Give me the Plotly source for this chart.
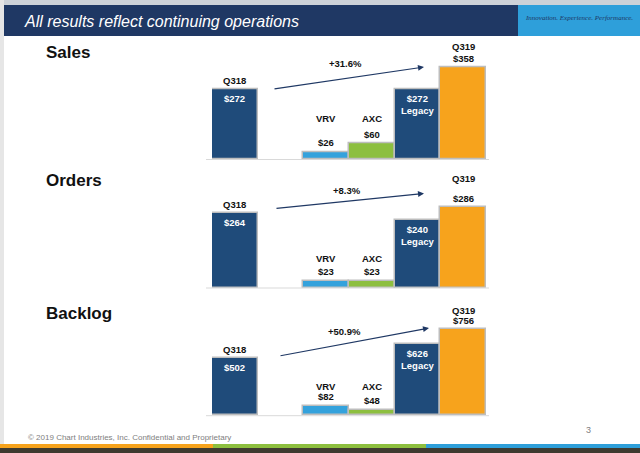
import plotly.graph_objects as go

W, H = 640, 453

# ---------------- data ----------------
categories = ["Q318", "VRV", "AXC", "Legacy", "Q319"]
slot_order = ["Q318", "gap", "VRV", "AXC", "Legacy", "Q319"]
panel_titles = ["Sales", "Orders", "Backlog"]
sales = [272, 26, 60, 272, 358]
orders = [264, 23, 23, 240, 286]
backlog = [502, 82, 48, 626, 756]
growth = ["+31.6%", "+8.3%", "+50.9%"]
header_text = "All results reflect continuing operations"
tagline = "Innovation. Experience. Performance."
footer_text = "© 2019 Chart Industries, Inc. Confidential and Proprietary"
page_no = "3"

# ---------------- style / layout ----------------
NAVY = "#1F4B7A"
HEAD_NAVY = "#1F3864"
LBLUE = "#34A2DC"
GREEN = "#8DBF3F"
ORANGE = "#F7A31C"
bar_colors = [NAVY, LBLUE, GREEN, NAVY, ORANGE]
FONT = "Liberation Sans, Arial, sans-serif"

# per panel: baseline px, px-per-unit, ymax
panels = [
    dict(base=159.0, scale=0.257, ymax=400, title_y=52, arrow=((273, 89), (424, 67)),
         growth_xy=(345, 63), name_y=118, q319_y=47),
    dict(base=287.5, scale=0.2815, ymax=400, title_y=180, arrow=((275, 208.5), (424, 193.5)),
         growth_xy=(347, 190.5), name_y=258, q319_y=178),
    dict(base=415.2, scale=0.1135, ymax=900, title_y=313, arrow=((279, 356), (429, 328)),
         growth_xy=(344, 331), name_y=386, q319_y=310),
]
series = [sales, orders, backlog]


def px(x):
    return x / W


def py(y):
    return 1 - y / H


fig = go.Figure()
annotations = []
shapes = []
layout_axes = {}

for i, (p, vals) in enumerate(zip(panels, series)):
    n = "" if i == 0 else str(i + 1)
    xa, ya = "x" + n, "y" + n
    fig.add_trace(go.Bar(
        x=categories, y=vals, xaxis=xa, yaxis=ya, width=1,
        marker=dict(color=bar_colors, line=dict(color="#BDBDBD", width=1.5)),
        hoverinfo="skip", showlegend=False,
    ))
    top_px = p["base"] - p["ymax"] * p["scale"]
    layout_axes["xaxis" + n] = dict(
        domain=[px(212), px(486)], anchor=ya, type="category",
        categoryorder="array", categoryarray=slot_order, range=[-0.5, 5.5],
        showticklabels=False, showgrid=False, zeroline=False, showline=False, ticks="",
    )
    layout_axes["yaxis" + n] = dict(
        domain=[py(p["base"]), py(top_px)], anchor=xa, range=[0, p["ymax"]],
        showticklabels=False, showgrid=False, zeroline=False, showline=False, ticks="",
    )
    # baseline
    shapes.append(dict(type="line", xref="paper", yref="paper",
                       x0=px(206), x1=px(489), y0=py(p["base"] + 0.5), y1=py(p["base"] + 0.5),
                       line=dict(color="#D9D9D9", width=1), layer="below"))
    # section title
    annotations.append(dict(text="<b>%s</b>" % panel_titles[i], xref="paper", yref="paper",
                            x=px(44), y=py(p["title_y"]), xanchor="left", yanchor="middle",
                            showarrow=False, font=dict(family=FONT, size=17, color="#111111")))
    lab = dict(family=FONT, size=9.5, color="#111111")
    wlab = dict(family=FONT, size=9.5, color="#FFFFFF")
    # Q318 name above bar and value inside
    annotations.append(dict(text="<b>Q318</b>", xref=xa, yref=ya, x="Q318", y=vals[0],
                            yanchor="bottom", yshift=1, showarrow=False, font=lab))
    annotations.append(dict(text="<b>$%d</b>" % vals[0], xref=xa, yref=ya, x="Q318", y=vals[0],
                            yanchor="top", yshift=-2, showarrow=False, font=wlab))
    # VRV / AXC names and values
    for k, c in ((1, "VRV"), (2, "AXC")):
        annotations.append(dict(text="<b>%s</b>" % c, xref=xa, yref="paper", x=c,
                                y=py(p["name_y"]), yanchor="middle", showarrow=False, font=lab))
        annotations.append(dict(text="<b>$%d</b>" % vals[k], xref=xa, yref=ya, x=c, y=vals[k],
                                yanchor="bottom", yshift=2, showarrow=False, font=lab))
    # Legacy value inside (two lines)
    annotations.append(dict(text="<b>$%d<br>Legacy</b>" % vals[3], xref=xa, yref=ya,
                            x="Legacy", y=vals[3], yanchor="top", yshift=-2,
                            showarrow=False, font=wlab))
    # Q319 name and value
    annotations.append(dict(text="<b>Q319</b>", xref=xa, yref="paper", x="Q319",
                            y=py(p["q319_y"]), yanchor="middle", showarrow=False, font=lab))
    annotations.append(dict(text="<b>$%d</b>" % vals[4], xref=xa, yref=ya, x="Q319", y=vals[4],
                            yanchor="bottom", yshift=1, showarrow=False, font=lab))
    # growth arrow + label
    (tx, ty), (hx, hy) = p["arrow"]
    annotations.append(dict(text="", xref="paper", yref="paper", x=px(hx), y=py(hy),
                            ax=tx - hx, ay=ty - hy, axref="pixel", ayref="pixel",
                            showarrow=True, arrowhead=2, arrowsize=1, arrowwidth=1.2,
                            arrowcolor=HEAD_NAVY, standoff=0, startstandoff=0))
    gx, gy = p["growth_xy"]
    annotations.append(dict(text="<b>%s</b>" % growth[i], xref="paper", yref="paper",
                            x=px(gx), y=py(gy), xanchor="center", yanchor="middle",
                            showarrow=False, font=lab))

# ---------------- slide decoration ----------------
def rect(x0, y0, x1, y1, color, layer="below"):
    shapes.append(dict(type="rect", xref="paper", yref="paper", x0=px(x0), x1=px(x1),
                       y0=py(y1), y1=py(y0), fillcolor=color, line=dict(width=0), layer=layer))

rect(0, 0, 640, 5, "#CDD2D8")
rect(0, 0, 4, 444, "#E6E6E6")
rect(4, 5, 518, 36, HEAD_NAVY)
rect(518, 5, 640, 36, "#2E9FDA")
rect(0, 444, 213, 448, ORANGE)
rect(213, 444, 426, 448, GREEN)
rect(426, 444, 640, 448, "#2E9FDA")
rect(0, 448, 640, 453, "#3E3A30")

annotations.append(dict(text="<i>%s</i>" % header_text, xref="paper", yref="paper",
                        x=px(22), y=py(21.5), xanchor="left", yanchor="middle", showarrow=False,
                        font=dict(family=FONT, size=16, color="#FFFFFF")))
annotations.append(dict(text="<i>%s</i>" % tagline, xref="paper", yref="paper",
                        x=px(579), y=py(18), xanchor="center", yanchor="middle", showarrow=False,
                        font=dict(family="Liberation Serif, Times New Roman, serif", size=7,
                                  color="#1F3864")))
annotations.append(dict(text=footer_text, xref="paper", yref="paper",
                        x=px(26), y=py(437), xanchor="left", yanchor="middle", showarrow=False,
                        font=dict(family=FONT, size=8, color="#808080")))
annotations.append(dict(text=page_no, xref="paper", yref="paper",
                        x=px(588), y=py(430), xanchor="center", yanchor="middle", showarrow=False,
                        font=dict(family=FONT, size=9, color="#808080")))

fig.update_layout(
    width=W, height=H, margin=dict(l=0, r=0, t=0, b=0),
    paper_bgcolor="#FFFFFF", plot_bgcolor="rgba(0,0,0,0)",
    bargap=0, showlegend=False, shapes=shapes, annotations=annotations,
    **layout_axes,
)

fig.write_html("out.html", config={"displayModeBar": False},
               post_script="document.body.style.margin='0';document.body.style.overflow='hidden';")
